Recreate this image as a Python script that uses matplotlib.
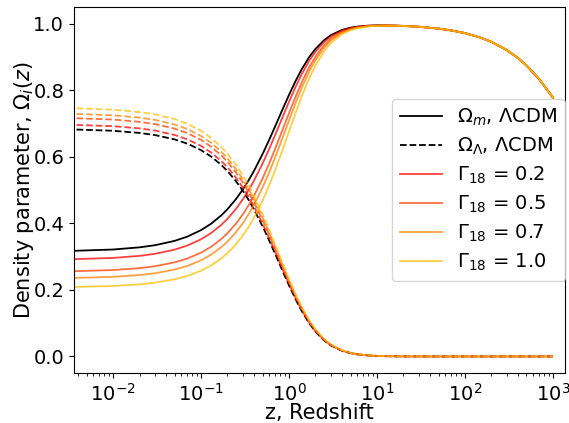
import numpy as np
from matplotlib import pyplot as plt

# Redshift sample points, low/intermediate z and the high-z tail
z_low = [0.003, 0.01, 0.02, 0.03, 0.05, 0.07, 0.1, 0.13, 0.17, 0.2, 0.25, 0.3,
         0.35, 0.4, 0.5, 0.6, 0.7, 0.85, 1.0, 1.2, 1.4, 1.7, 2.0, 2.5, 3.0,
         4.0, 5.0, 6.0, 8.0, 10.0, 14.0, 20.0]
z_tail = [30.0, 50.0, 70.0, 100.0, 150.0, 200.0, 300.0, 400.0, 500.0, 700.0, 1000.0]
z = z_low + z_tail

# Every model shares the same values at z >= 30
om_tail = [0.9912, 0.9856, 0.9801, 0.9720, 0.9586, 0.9457, 0.9208, 0.8972, 0.8748, 0.8332, 0.7776]
ol_tail = [0.0] * len(z_tail)

# LCDM
om_lcdm = [0.3169, 0.3215, 0.3280, 0.3344, 0.3474, 0.3603, 0.3797, 0.3989, 0.4241, 0.4428,
           0.4732, 0.5026, 0.5308, 0.5579, 0.6082, 0.6532, 0.6932, 0.7444, 0.7863, 0.8304,
           0.8641, 0.9005, 0.9247, 0.9507, 0.9661, 0.9815, 0.9883, 0.9917, 0.9945, 0.9953,
           0.9951, 0.9938] + om_tail
ol_lcdm = [0.6831, 0.6785, 0.6720, 0.6656, 0.6526, 0.6397, 0.6203, 0.6011, 0.5759, 0.5572,
           0.5268, 0.4974, 0.4692, 0.4421, 0.3918, 0.3468, 0.3068, 0.2556, 0.2137, 0.1696,
           0.1359, 0.0995, 0.0745, 0.0482, 0.0328, 0.0171, 0.0100, 0.0063, 0.0030, 0.0016,
           0.0006, 0.0002] + ol_tail

# Decaying models, Gamma_18
gammas = [0.2, 0.5, 0.7, 1.0]
om_gamma = [
    [0.2919, 0.2962, 0.3024, 0.3086, 0.3210, 0.3335, 0.3522, 0.3708, 0.3955, 0.4138,
     0.4438, 0.4730, 0.5012, 0.5285, 0.5796, 0.6259, 0.6674, 0.7212, 0.7657, 0.8131,
     0.8495, 0.8894, 0.9161, 0.9450, 0.9622, 0.9794, 0.9871, 0.9909, 0.9940, 0.9950,
     0.9950, 0.9937] + om_tail,
    [0.2557, 0.2597, 0.2655, 0.2712, 0.2828, 0.2944, 0.3119, 0.3295, 0.3529, 0.3705,
     0.3995, 0.4280, 0.4559, 0.4831, 0.5347, 0.5824, 0.6259, 0.6832, 0.7315, 0.7838,
     0.8248, 0.8702, 0.9011, 0.9349, 0.9551, 0.9756, 0.9849, 0.9895, 0.9933, 0.9947,
     0.9948, 0.9936] + om_tail,
    [0.2355, 0.2393, 0.2447, 0.2502, 0.2612, 0.2722, 0.2890, 0.3059, 0.3285, 0.3454,
     0.3736, 0.4015, 0.4290, 0.4559, 0.5075, 0.5557, 0.6000, 0.6591, 0.7096, 0.7648,
     0.8085, 0.8574, 0.8910, 0.9280, 0.9503, 0.9731, 0.9834, 0.9885, 0.9928, 0.9944,
     0.9947, 0.9935] + om_tail,
    [0.2084, 0.2118, 0.2168, 0.2218, 0.2319, 0.2422, 0.2577, 0.2735, 0.2947, 0.3107,
     0.3375, 0.3643, 0.3909, 0.4172, 0.4682, 0.5166, 0.5617, 0.6229, 0.6761, 0.7353,
     0.7829, 0.8370, 0.8749, 0.9169, 0.9425, 0.9688, 0.9809, 0.9869, 0.9921, 0.9940,
     0.9945, 0.9933] + om_tail,
]
ol_gamma = [
    [0.6970, 0.6923, 0.6857, 0.6792, 0.6659, 0.6528, 0.6330, 0.6134, 0.5876, 0.5686,
     0.5375, 0.5075, 0.4788, 0.4511, 0.3998, 0.3539, 0.3131, 0.2608, 0.2181, 0.1731,
     0.1387, 0.1015, 0.0760, 0.0492, 0.0335, 0.0174, 0.0102, 0.0064, 0.0031, 0.0016,
     0.0006, 0.0002] + ol_tail,
    [0.7170, 0.7122, 0.7053, 0.6986, 0.6850, 0.6714, 0.6511, 0.6309, 0.6045, 0.5848,
     0.5529, 0.5221, 0.4925, 0.4640, 0.4112, 0.3640, 0.3220, 0.2683, 0.2243, 0.1780,
     0.1426, 0.1044, 0.0782, 0.0506, 0.0344, 0.0179, 0.0104, 0.0066, 0.0031, 0.0017,
     0.0006, 0.0002] + ol_tail,
    [0.7300, 0.7250, 0.7181, 0.7113, 0.6974, 0.6836, 0.6629, 0.6423, 0.6154, 0.5954,
     0.5629, 0.5315, 0.5014, 0.4724, 0.4187, 0.3706, 0.3278, 0.2731, 0.2284, 0.1812,
     0.1452, 0.1063, 0.0796, 0.0515, 0.0351, 0.0183, 0.0106, 0.0067, 0.0032, 0.0017,
     0.0006, 0.0002] + ol_tail,
    [0.7469, 0.7419, 0.7348, 0.7278, 0.7136, 0.6994, 0.6782, 0.6572, 0.6297, 0.6093,
     0.5760, 0.5439, 0.5130, 0.4834, 0.4284, 0.3792, 0.3355, 0.2795, 0.2337, 0.1854,
     0.1486, 0.1088, 0.0815, 0.0527, 0.0359, 0.0187, 0.0109, 0.0069, 0.0033, 0.0017,
     0.0007, 0.0002] + ol_tail,
]


def main():
    fig = plt.figure(figsize=(5.69, 4.23), dpi=100)
    ax = fig.add_axes([0.130, 0.118, 0.863, 0.865])

    colors = plt.cm.autumn(np.linspace(0.0, 0.75, len(gammas)))

    ax.plot(z, om_lcdm, color='k', lw=1.3, label=r'$\Omega_m$, $\Lambda$CDM')
    ax.plot(z, ol_lcdm, color='k', lw=1.3, ls='--', label=r'$\Omega_\Lambda$, $\Lambda$CDM')

    for g, om, ol, c in zip(gammas, om_gamma, ol_gamma, colors):
        ax.plot(z, om, color=c, lw=1.3, alpha=0.75, label=r'$\Gamma_{18}$ = %.1f' % g)
        ax.plot(z, ol, color=c, lw=1.3, alpha=0.75, ls='--')

    ax.set_xscale('log')
    ax.set_xlim(3.6e-3, 1.37e3)
    ax.set_ylim(-0.05, 1.05)
    ax.tick_params(labelsize=14)
    ax.set_xlabel('z, Redshift', fontsize=15, labelpad=-1)
    ax.set_ylabel(r'Density parameter, $\Omega_i(z)$', fontsize=15, labelpad=-2)
    ax.legend(loc='center right', bbox_to_anchor=(1.0, 0.5), borderaxespad=0.0,
              fontsize=14, labelspacing=0.4, handlelength=2.15)

    fig.savefig('out.png')


if __name__ == '__main__':
    main()
